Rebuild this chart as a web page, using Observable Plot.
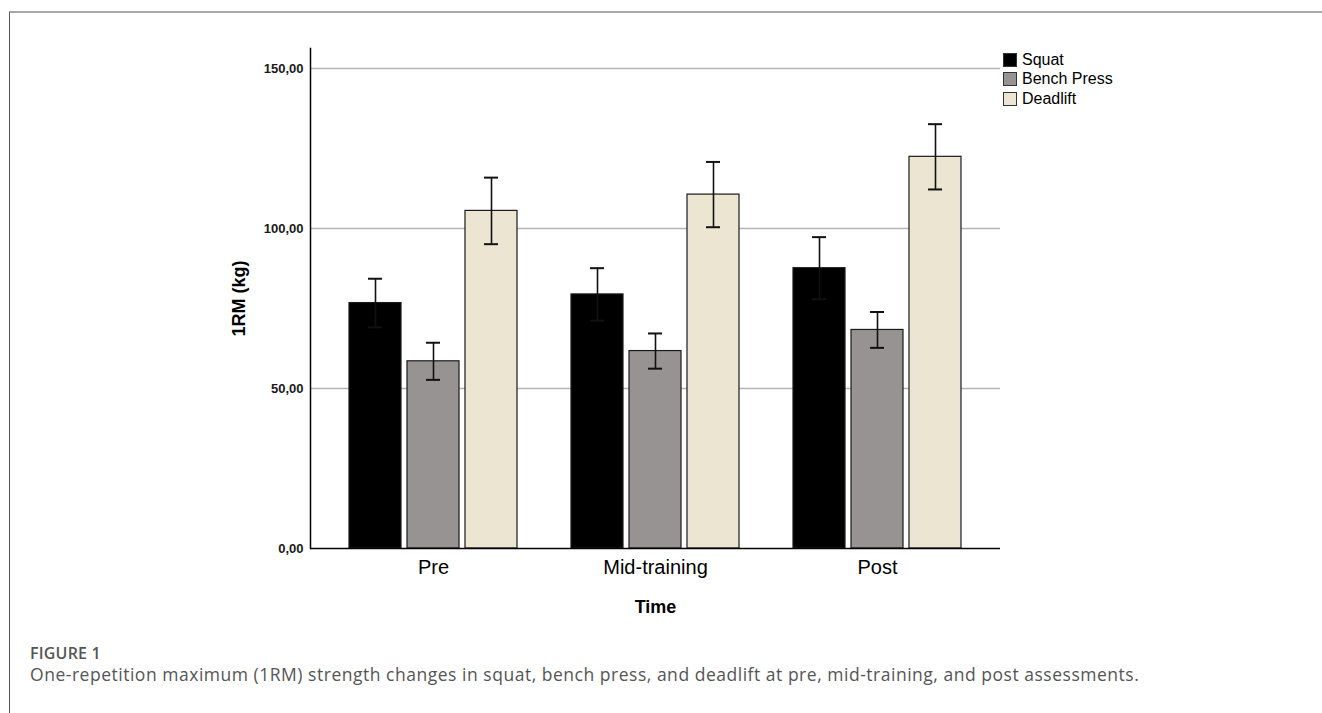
<!DOCTYPE html>
<html><head><meta charset="utf-8">
<script src="https://cdn.jsdelivr.net/npm/d3@7"></script>
<script src="https://cdn.jsdelivr.net/npm/@observablehq/plot@0.6"></script>
<style>
body{margin:0;background:#fff;width:1322px;height:713px;overflow:hidden;position:relative;font-family:Arial,"Liberation Sans",sans-serif}
#frame{position:absolute;left:9px;top:11px;width:1400px;height:800px;border-top:2px solid #a8a8a8;border-left:1px solid #555;}
.layer{position:absolute;left:10px;top:13px}
.layer svg{display:block}
#legend{position:absolute;left:1003px;top:50px;font-family:Arial,"Liberation Sans",sans-serif;font-size:16px;color:#000}
.row{display:flex;align-items:center;height:19.5px}
.sw{width:14px;height:14px;border:1px solid #333;margin-right:5px;box-sizing:border-box}
#fig{position:absolute;left:30px;top:642px;font-family:"Open Sans";font-size:16px;letter-spacing:0.2px;font-weight:600;color:#555}
#cap{position:absolute;left:30px;top:662px;font-family:"Open Sans";font-size:17.5px;letter-spacing:0.52px;color:#555}
g[aria-label="y-axis label"] text, g[aria-label="fx-axis label"] text{font-weight:bold;font-size:18px}
g[aria-label="y-axis tick label"] text{font-size:13px;font-weight:bold;fill:#1a1a1a}
g[aria-label="fx-axis tick label"] text{font-size:20px}
</style>
</head><body>
<div id="frame"></div>
<div id="back" class="layer"></div>
<div id="front" class="layer"></div>
<div id="lines" class="layer"></div>
<div id="legend"></div>
<div id="fig">FIGURE 1</div>
<div id="cap">One-repetition maximum (1RM) strength changes in squat, bench press, and deadlift at pre, mid-training, and post assessments.</div>
<script>
const times = ["Pre", "Mid-training", "Post"];
const lifts = ["Squat", "Bench Press", "Deadlift"];
const squatMean = [76.7, 79.4, 87.6];
const squatErr = [7.6, 8.2, 9.7];
const benchMean = [58.5, 61.7, 68.3];
const benchErr = [5.8, 5.5, 5.6];
const deadliftMean = [105.5, 110.6, 122.4];
const deadliftErr = [10.4, 10.2, 10.2];
const colors = ["#000000", "#979393", "#ebe5d1"];
const yTicks = [0, 50, 100, 150];

const means = [squatMean, benchMean, deadliftMean];
const errs = [squatErr, benchErr, deadliftErr];
const rows = [];
times.forEach((t, i) => lifts.forEach((l, j) => {
  rows.push({time: t, lift: l, mean: means[j][i], lo: means[j][i] - errs[j][i], hi: means[j][i] + errs[j][i]});
}));

const common = {
  width: 1312,
  height: 620,
  marginLeft: 300,
  marginRight: 322,
  marginTop: 35,
  marginBottom: 85,
  style: {fontFamily: "Arial, 'Liberation Sans', sans-serif", color: "#000", background: "transparent"}
};

// background layer: grid and y axis
const backPlot = Plot.plot({
  ...common,
  y: {domain: [0, 156.25]},
  marks: [
    Plot.ruleY(yTicks.filter(d => d > 0), {stroke: "#b4b4b4", strokeWidth: 1.5}),
    Plot.axisY({ticks: yTicks, tickSize: 0, tickPadding: 7, fontSize: 13,
      tickFormat: d => d.toFixed(2).replace(".", ","),
      label: "1RM (kg)", labelArrow: "none", labelAnchor: "center", labelOffset: 78})
  ]
});
document.getElementById("back").appendChild(backPlot);

// foreground layer: faceted grouped bars with error bars
const frontPlot = Plot.plot({
  ...common,
  y: {domain: [0, 156.25], axis: null},
  fx: {domain: times, paddingInner: 0.233, paddingOuter: 0.164},
  x: {domain: lifts, paddingInner: 0.1, paddingOuter: 0, axis: null},
  color: {domain: lifts, range: colors},
  marks: [
    Plot.barY(rows, {fx: "time", x: "lift", y: "mean", fill: "lift", stroke: "#1a1a1a", strokeWidth: 1.2}),
    Plot.ruleX(rows, {fx: "time", x: "lift", y1: "lo", y2: "hi", stroke: "#111", strokeWidth: 1.6}),
    Plot.tickY(rows, {fx: "time", x: "lift", y: "hi", inset: 19, stroke: "#111", strokeWidth: 2}),
    Plot.tickY(rows, {fx: "time", x: "lift", y: "lo", inset: 19, stroke: "#111", strokeWidth: 2}),
    Plot.axisFx({anchor: "bottom", tickSize: 0, tickPadding: 11, fontSize: 20,
      label: "Time", labelArrow: "none", labelAnchor: "center", labelOffset: 64})
  ]
});
document.getElementById("front").appendChild(frontPlot);

// axis lines on top
const linesPlot = Plot.plot({
  ...common,
  y: {domain: [0, 156.25], axis: null},
  marks: [
    Plot.ruleY([0], {stroke: "#000", strokeWidth: 1.5}),
    Plot.frame({anchor: "left", stroke: "#000", strokeWidth: 1.5})
  ]
});
document.getElementById("lines").appendChild(linesPlot);

const legend = document.getElementById("legend");
lifts.forEach((l, j) => {
  const r = document.createElement("div");
  r.className = "row";
  const s = document.createElement("div");
  s.className = "sw";
  s.style.background = colors[j];
  r.appendChild(s);
  const t = document.createElement("span");
  t.textContent = l;
  r.appendChild(t);
  legend.appendChild(r);
});
</script>
</body></html>
